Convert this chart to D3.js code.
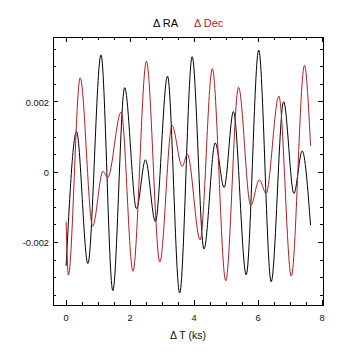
<!DOCTYPE html>
<html>
<head>
<meta charset="utf-8">
<script src="https://cdn.jsdelivr.net/npm/d3@7"></script>
<style>
  html, body { margin: 0; padding: 0; background: #fff; }
  svg text { font-family: "Liberation Sans", Arial, Helvetica, sans-serif; }
</style>
</head>
<body>
<svg id="chart" width="360" height="360"></svg>
<script>
// Time (ks) and offsets (turning points of each curve)
const raTime = [0, 0.325, 0.68, 1.09, 1.46, 1.83, 2.20, 2.48, 2.79, 3.17, 3.55, 3.94, 4.31, 4.66, 4.94, 5.23, 5.63, 6.02, 6.41, 6.80, 7.12, 7.38, 7.64];
const raValues = [-0.00268, 0.00114, -0.00261, 0.00332, -0.00338, 0.00239, -0.00105, 0.00034, -0.00142, 0.00272, -0.00345, 0.00327, -0.00220, 0.00082, -0.00045, 0.00171, -0.00293, 0.00346, -0.00313, 0.00199, -0.00062, 0.00059, -0.00152];

const decTime = [0, 0.07, 0.44, 0.83, 1.15, 1.30, 1.72, 2.09, 2.51, 2.93, 3.31, 3.63, 3.79, 4.19, 4.57, 4.99, 5.39, 5.77, 6.04, 6.25, 6.65, 7.04, 7.45, 7.64];
const decValues = [-0.00142, -0.00294, 0.00267, -0.00155, 0.00001, -0.00017, 0.00170, -0.00283, 0.00314, -0.00257, 0.00131, 0.00015, 0.00050, -0.00194, 0.00293, -0.00310, 0.00240, -0.00096, -0.00023, -0.00062, 0.00215, -0.00297, 0.00302, 0.00074];

const xTicks = [0, 2, 4, 6, 8];
const xMinorTicks = [0, 0.5, 1, 1.5, 2, 2.5, 3, 3.5, 4, 4.5, 5, 5.5, 6, 6.5, 7, 7.5, 8];
const yTicks = [-0.002, 0, 0.002];
const yTickLabels = ["-0.002", "0", "0.002"];
const yMinorTicks = [-0.0035, -0.003, -0.0025, -0.002, -0.0015, -0.001, -0.0005, 0, 0.0005, 0.001, 0.0015, 0.002, 0.0025, 0.003, 0.0035];

const legendLabels = ["\u0394 RA", "\u0394 Dec"];
const xTitle = "\u0394 T (ks)";

const colRA = "#000000";
const colDec = "#b01e23";

const svg = d3.select("#chart");
const L = 53, R = 323, T = 37, B = 305;

const x = d3.scaleLinear().domain([-0.41, 8.03]).range([L, R]);
const y = d3.scaleLinear().domain([-0.00379, 0.00383]).range([B, T]);

const g = svg.append("g");

// Frame
g.append("rect").attr("x", L).attr("y", T).attr("width", R - L).attr("height", B - T)
  .attr("fill", "none").attr("stroke", "#000").attr("stroke-width", 1).attr("shape-rendering", "crispEdges");

// Axes with inward ticks (box style)
const major = 5, minor = 3;
function axisTicks(axisGen, transform, vals, size) {
  g.append("g").attr("transform", transform)
    .call(axisGen.tickValues(vals).tickSize(size).tickFormat(""))
    .call(s => s.select(".domain").remove())
    .call(s => s.selectAll("line").attr("stroke", "#000").attr("shape-rendering", "crispEdges"));
}
axisTicks(d3.axisTop(x), `translate(0,${B})`, xMinorTicks, minor);
axisTicks(d3.axisTop(x), `translate(0,${B})`, xTicks, major);
axisTicks(d3.axisBottom(x), `translate(0,${T})`, xMinorTicks, minor);
axisTicks(d3.axisBottom(x), `translate(0,${T})`, xTicks, major);
axisTicks(d3.axisRight(y), `translate(${L},0)`, yMinorTicks, minor);
axisTicks(d3.axisRight(y), `translate(${L},0)`, yTicks, major);
axisTicks(d3.axisLeft(y), `translate(${R},0)`, yMinorTicks, minor);
axisTicks(d3.axisLeft(y), `translate(${R},0)`, yTicks, major);

// Tick labels
g.selectAll(".xlab").data(xTicks).enter().append("text")
  .attr("x", d => x(d)).attr("y", 321).attr("text-anchor", "middle")
  .attr("font-size", 9.3).attr("fill", "#111").text(d => d);
g.selectAll(".ylab").data(yTicks).enter().append("text")
  .attr("x", 49).attr("y", d => y(d) + 4.2).attr("text-anchor", "end")
  .attr("font-size", 9.3).attr("fill", "#111").text((d, i) => yTickLabels[i]);

// X title
g.append("text").attr("x", (L + R) / 2).attr("y", 339).attr("text-anchor", "middle")
  .attr("font-size", 10.5).attr("fill", "#111").text(xTitle);

// Legend
g.append("text").attr("x", 153).attr("y", 27).attr("font-size", 11).attr("fill", colRA).text(legendLabels[0]);
g.append("text").attr("x", 194).attr("y", 27).attr("font-size", 11).attr("fill", colDec).text(legendLabels[1]);

// Curves
const line = d3.line().x(d => x(d[0])).y(d => y(d[1])).curve(d3.curveMonotoneX);
const raData = raTime.map((t, i) => [t, raValues[i]]);
const decData = decTime.map((t, i) => [t, decValues[i]]);

g.append("path").attr("d", line(raData)).attr("fill", "none").attr("stroke", colRA).attr("stroke-width", 1);
g.append("path").attr("d", line(decData)).attr("fill", "none").attr("stroke", colDec).attr("stroke-width", 1);
</script>
</body>
</html>
